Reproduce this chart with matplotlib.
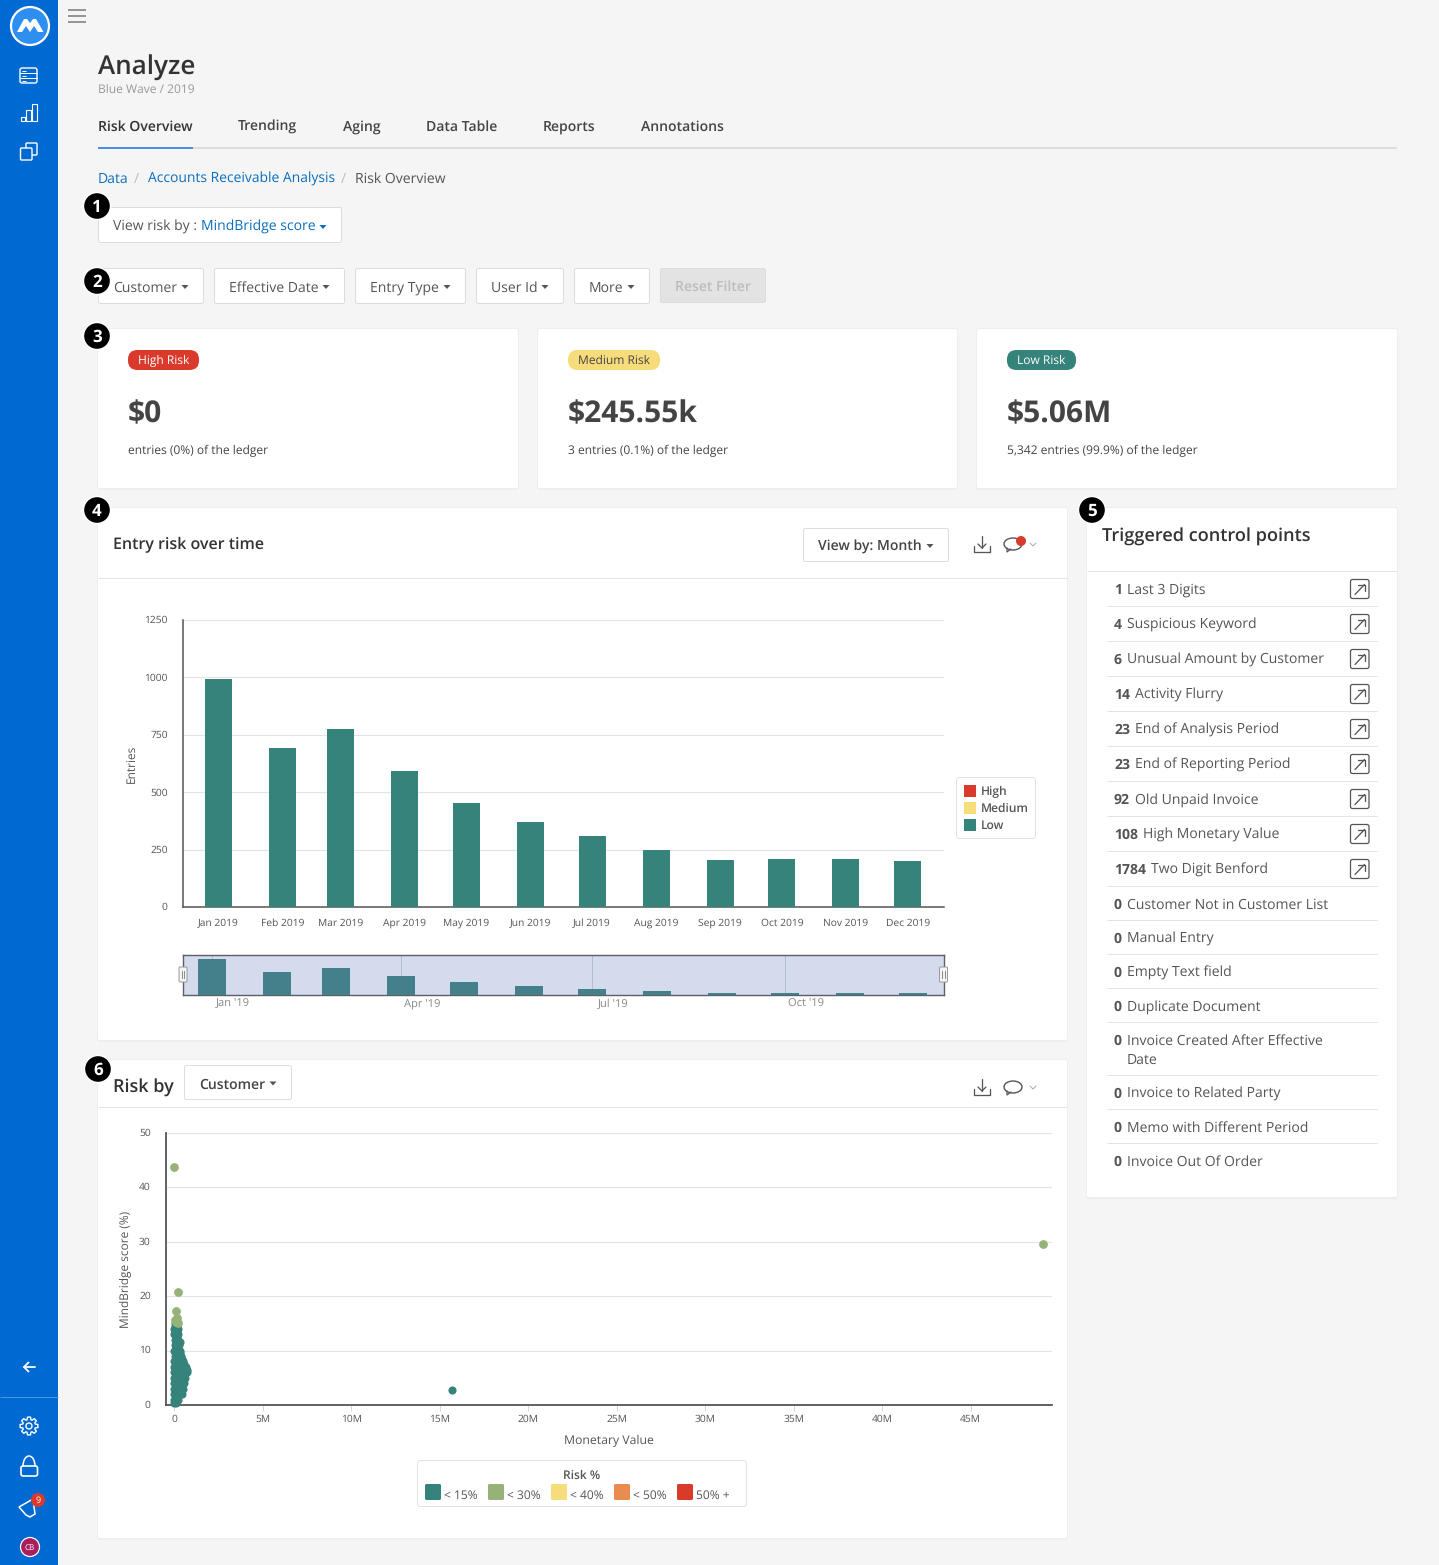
import datetime as dt
import math
import matplotlib
matplotlib.use("Agg")
import matplotlib.pyplot as plt
import matplotlib.dates as mdates
from matplotlib.patches import FancyBboxPatch, Rectangle, Circle, Polygon, Ellipse, Arc
from matplotlib.transforms import ScaledTranslation

plt.rcParams['font.family'] = ['Open Sans', 'DejaVu Sans']
plt.rcParams['text.hinting'] = 'no_hinting'

W, H = 1439, 1565

# entries per month
month_labels = ['Jan 2019', 'Feb 2019', 'Mar 2019', 'Apr 2019', 'May 2019', 'Jun 2019',
                'Jul 2019', 'Aug 2019', 'Sep 2019', 'Oct 2019', 'Nov 2019', 'Dec 2019']
month_dates = [dt.date(2019, m, 1) for m in range(1, 13)]
entries_low = [993, 692, 775, 592, 453, 370, 309, 248, 205, 209, 209, 200]
entry_ticks = [0, 250, 500, 750, 1000, 1250]
nav_tick_dates = [dt.date(2019, 1, 1), dt.date(2019, 4, 1), dt.date(2019, 7, 1), dt.date(2019, 10, 1)]
nav_tick_labels = ["Jan '19", "Apr '19", "Jul '19", "Oct '19"]

# scatter, monetary value in millions vs score
low_x = [0, .08,
         0, .12, .2, .06, .16,
         0, .12, .25, .38, .45, .06, .18, .3,
         0, .12, .25, .38, .48, .06, .18, .32, .44,
         0, .12, .25, .38, .5, .52, .06, .18, .32, .44,
         0, .12, .25, .38, .5, .62, .06, .18, .32, .44, .56,
         0, .12, .25, .38, .5, .62, .7, .72, .06, .18, .32, .44, .56,
         0, .12, .25, .38, .5, .65, .06, .18, .32, .44, .56,
         0, .12, .25, .38, .48, .06, .18, .32, .42,
         .02, .12, .25, .35, .07, .18, .3,
         0, .12, .25, .3, .06, .18,
         .02, .12, .25, .33, .07, .18,
         .03, .12, .22, .08, .17,
         0, .1, .2, .05, .15,
         0, .1, .2, .05, .15,
         .05, .15,
         15.7]
low_y = [.3, .3,
         1, 1, 1, 1.5, 1.5,
         2, 2, 2, 2, 2, 2.5, 2.5, 2.5,
         3, 3, 3, 3, 3, 3.5, 3.5, 3.5, 3.5,
         4, 4, 4, 4, 4, 4, 4.5, 4.5, 4.5, 4.5,
         5, 5, 5, 5, 5, 5, 5.5, 5.5, 5.5, 5.5, 5.5,
         6, 6, 6, 6, 6, 6, 6, 6.5, 6.5, 6.5, 6.5, 6.5, 6.5,
         7, 7, 7, 7, 7, 7, 7.5, 7.5, 7.5, 7.5, 7.5,
         8, 8, 8, 8, 8, 8.5, 8.5, 8.5, 8.5,
         9, 9, 9, 9, 9.5, 9.5, 9.5,
         10, 10, 10, 10, 10.5, 10.5,
         11, 11, 11, 11.5, 11.5, 11.5,
         12, 12, 12, 12.5, 12.5,
         13, 13, 13, 13.5, 13.5,
         14, 14, 14, 14.5, 14.5,
         15, 15,
         2.8]
medium_x = [0, .2, .1, .15, .08, .05, .18, 49.1]
medium_y = [43.7, 20.7, 17.3, 16, 15.2, 15.6, 15.0, 29.6]
score_ticks = [0, 10, 20, 30, 40, 50]
value_ticks = [0, 5, 10, 15, 20, 25, 30, 35, 40, 45]
value_labels = ['0', '5M', '10M', '15M', '20M', '25M', '30M', '35M', '40M', '45M']

control_points = [('1', 'Last 3 Digits'), ('4', 'Suspicious Keyword'), ('6', 'Unusual Amount by Customer'),
                  ('14', 'Activity Flurry'), ('23', 'End of Analysis Period'), ('23', 'End of Reporting Period'),
                  ('92', 'Old Unpaid Invoice'), ('108', 'High Monetary Value'), ('1784', 'Two Digit Benford'),
                  ('0', 'Customer Not in Customer List'), ('0', 'Manual Entry'), ('0', 'Empty Text field'),
                  ('0', 'Duplicate Document'), ('0', 'Invoice Created After Effective\nDate'),
                  ('0', 'Invoice to Related Party'), ('0', 'Memo with Different Period'), ('0', 'Invoice Out Of Order')]
control_rows = [589, 624, 659, 694, 729, 764, 799, 834, 869, 904, 938, 972, 1006, 1049, 1093, 1127, 1161]
control_seps = [606, 641, 676, 711, 746, 781, 816, 851, 886, 920, 954, 988, 1022, 1075, 1109, 1143]

TEAL = '#35837a'
GREEN = '#97b279'
YELLOW = '#f7dc7c'
ORANGE = '#ea8c52'
RED = '#d93a2b'
BLUE = '#0069d2'
LINK = '#0a6ebd'
DARK = '#333333'
GREY = '#555555'


def txt(x, y, s, size=14, color=GREY, weight='normal', ha='left', **kw):
    # size is in pixels, y is the middle of the capitals
    return ui.text(x, y + size * 0.36, s, fontsize=size * 0.72, color=color, fontweight=weight, ha=ha,
                   va='baseline', **kw)


def box(x0, y0, x1, y1, fc='white', ec='none', r=3, lw=0.7, z=1, ax=None, **kw):
    p = FancyBboxPatch((x0 + r, y0 + r), x1 - x0 - 2 * r, y1 - y0 - 2 * r,
                       boxstyle='round,pad=%f,rounding_size=%f' % (r, r),
                       fc=fc, ec=ec, lw=lw, zorder=z, mutation_aspect=1, **kw)
    if ax is None:
        ui.add_patch(p)
    else:
        ax.add_patch(p)
    return p


def card(x0, y0, x1, y1):
    box(x0 - 1, y0 - 1, x1 + 1, y1 + 2, fc='#eeeeee', r=3, z=1)
    box(x0, y0, x1, y1, fc='white', r=2, z=1.1)


def hline(x0, x1, y, color='#e4e4e4', lw=1.0, z=2):
    ui.plot([x0, x1], [y, y], color=color, lw=lw * 0.72, zorder=z, solid_capstyle='butt')


def line(xs, ys, color='white', lw=1.5, z=3):
    ui.plot(xs, ys, color=color, lw=lw * 0.72, zorder=z, solid_capstyle='round', solid_joinstyle='round')


def caret(x, y, color=GREY):
    ui.add_patch(Polygon([(x - 3.5, y - 2), (x + 3.5, y - 2), (x, y + 2)], fc=color, ec='none', zorder=3))


def button(x0, y0, x1, y1, label, size=14, color=GREY, tx=None, caret_x=None, weight='normal'):
    box(x0 + .5, y0 + .5, x1 - .5, y1 - .5, fc='white', ec='#dcdcdc', r=2, z=2)
    txt(x0 + 15 if tx is None else tx, (y0 + y1) / 2 + 1, label, size=size, color=color, weight=weight, zorder=3)
    if caret_x:
        caret(caret_x, (y0 + y1) / 2 + 1)


def badge(x, y, s):
    ui.add_patch(Circle((x, y), 13.5, fc='black', ec='white', lw=1, zorder=6))
    txt(x, y, s, size=17, color='white', weight='bold', ha='center', zorder=7)


def px_axes(l, t, r, b):
    a = fig.add_axes([l / W, 1 - b / H, (r - l) / W, (b - t) / H], zorder=5)
    a.patch.set_alpha(0)
    return a


def nudge_ylabels(a, px):
    for lab in a.get_yticklabels():
        lab.set_transform(lab.get_transform() + ScaledTranslation(0, px / 100, fig.dpi_scale_trans))


def download_icon(x, y):
    line([x - 8, x - 8, x + 8, x + 8], [y + 2, y + 8, y + 8, y + 2], color=GREY, lw=1.3)
    line([x, x], [y - 8, y + 4], color=GREY, lw=1.3)
    line([x - 4, x, x + 4], [y, y + 4, y], color=GREY, lw=1.3)


def comment_icon(x, y):
    ui.add_patch(Ellipse((x, y), 18, 12, fc='white', ec=GREY, lw=1.0, zorder=3))
    line([x - 6, x - 6, x - 2], [y + 4, y + 8, y + 5], color=GREY, lw=1.2, z=4)
    line([x + 17, x + 20, x + 23], [y - 1, y + 2, y - 1], color='#aaaaaa', lw=1)


def gear(cx, cy):
    pts = []
    for k in range(8):
        a = k * math.pi / 4
        for da, rad in [(-.3, 6.5), (-.17, 9), (.17, 9), (.3, 6.5)]:
            pts.append((cx + rad * math.cos(a + da), cy + rad * math.sin(a + da)))
    ui.add_patch(Polygon(pts, fc='none', ec='white', lw=1.0, zorder=3, joinstyle='round'))
    ui.add_patch(Circle((cx, cy), 3, fc='none', ec='white', lw=1.0, zorder=3))


fig = plt.figure(figsize=(W / 100, H / 100), dpi=100, facecolor='#f5f5f5')
ui = fig.add_axes([0, 0, 1, 1], zorder=0)
ui.set_xlim(0, W)
ui.set_ylim(H, 0)
ui.axis('off')

# sidebar
ui.add_patch(Rectangle((0, 0), 58, H, fc=BLUE, ec='none', zorder=1))
hline(0, 58, 1396.5, color='#4b96e2')
ui.add_patch(Circle((30, 26), 19, fc='#2f8ff0', ec='white', lw=1.6, zorder=2))
ui.add_patch(Polygon([(17, 32), (24, 19), (27, 19), (30, 23), (33, 19), (36, 19), (43.5, 32), (38, 32), (34, 26),
                      (30, 32), (26, 26), (22, 32)], fc='white', ec='none', zorder=3))
box(20, 68, 37, 83, fc='none', ec='white', r=2, lw=1.0, z=3)
hline(20, 37, 73, color='white')
hline(20, 37, 78, color='white')
for dy in [70.5, 75.5, 80.5]:
    hline(22, 26, dy, color='white', lw=1.0, z=3)
for bx, bt in [(20.5, 117), (26, 110), (32, 104)]:
    ui.add_patch(Rectangle((bx, bt), 4.5, 121 - bt, fc='none', ec='white', lw=0.8, zorder=3))
box(26, 143, 37, 155, fc='none', ec='white', r=1, lw=1.0, z=3)
box(20.5, 148, 32, 160, fc=BLUE, ec='white', r=1, lw=1.0, z=4)
line([35, 24], [1367, 1367], lw=1.8)
line([28.5, 24, 28.5], [1362.5, 1367, 1371.5], lw=1.8)
gear(29, 1426)
box(21, 1466, 37.5, 1476, fc='none', ec='white', r=2, lw=1.2, z=3)
ui.add_patch(Arc((29, 1466), 12, 20, theta1=180, theta2=360, ec='white', lw=1.1, zorder=3))
ui.add_patch(Polygon([(19, 1507), (33, 1499), (35, 1514), (30, 1517), (26, 1515)], fc='none', ec='white', lw=1.1,
                     zorder=3))
ui.add_patch(Circle((38, 1500), 7, fc=RED, ec='none', zorder=4))
txt(38, 1500, '9', size=9, color='white', ha='center', zorder=5)
ui.add_patch(Circle((30, 1547), 9.5, fc='#a81e5e', ec='white', lw=0.9, zorder=3))
txt(30, 1547, 'CB', size=8, color='white', ha='center', zorder=4)

# hamburger
for hy in [9.5, 15.5, 22]:
    hline(68, 86, hy, color='#777777', lw=1.5)

# header
txt(98, 65, 'Analyze', size=26, color=DARK, weight='semibold')
txt(98, 88.5, 'Blue Wave / 2019', size=12, color='#999999')
tab_x = [98, 238, 343, 426, 543, 641]
tab_names = ['Risk Overview', 'Trending', 'Aging', 'Data Table', 'Reports', 'Annotations']
for tx, name in zip(tab_x, tab_names):
    txt(tx, 126, name, size=14, color=DARK if name == 'Risk Overview' else '#444444', weight='semibold')
hline(98, 1397, 147.5, color='#dedede', lw=2)
hline(98, 193, 147.5, color='#4a90e2', lw=2, z=3)

# breadcrumb
txt(98, 178, 'Data', color=LINK)
txt(134, 178, '/', color='#bbbbbb')
txt(148, 178, 'Accounts Receivable Analysis', size=13.9, color=LINK)
txt(341, 178, '/', color='#bbbbbb')
txt(355, 178, 'Risk Overview', color=GREY)

# filters
box(98.5, 207.5, 341.5, 242.5, fc='white', ec='#dcdcdc', r=2, z=2)
txt(113, 226, 'View risk by : ', zorder=3)
txt(201, 226, 'MindBridge score', color=LINK, zorder=3)
caret(323, 227, color=LINK)
button(98, 268, 204, 304, 'Customer', caret_x=185)
button(214, 268, 345, 304, 'Effective Date', caret_x=326)
button(355, 268, 466, 304, 'Entry Type', caret_x=447)
button(476, 268, 564, 304, 'User Id', caret_x=545)
button(574, 268, 650, 304, 'More', caret_x=631)
box(660.5, 268.5, 765.5, 302.5, fc='#e3e3e3', ec='#dcdcdc', r=2, z=2)
txt(713, 286, 'Reset Filter', color='#bcbcbc', weight='semibold', ha='center', zorder=3)

# risk cards
card(98, 329, 518, 488)
card(538, 329, 957, 488)
card(977, 329, 1397, 488)
pills = [(128, 199, 'High Risk', RED, 'white'), (568, 660, 'Medium Risk', YELLOW, '#444444'),
         (1007, 1076, 'Low Risk', TEAL, 'white')]
for x0, x1, lab, fc, tc in pills:
    box(x0, 350, x1, 370, fc=fc, r=9.5, z=3)
    txt((x0 + x1) / 2, 360, lab, size=12, color=tc, ha='center', zorder=4)
amounts = [(128, '$0', 'entries (0%) of the ledger'), (568, '$245.55k', '3 entries (0.1%) of the ledger'),
           (1007, '$5.06M', '5,342 entries (99.9%) of the ledger')]
for ax0, amt, sub in amounts:
    txt(ax0, 411, amt, size=30, color='#444444', weight='bold', zorder=3)
    txt(ax0, 450, sub, size=12, color='#444444', zorder=3)

# entry risk card
card(98, 508, 1067, 1040)
txt(113, 543.5, 'Entry risk over time', size=16, color=DARK, weight='semibold', zorder=3)
hline(98, 1067, 578)
button(803, 528, 949, 562, 'View by: Month', color='#444444', caret_x=930, weight='semibold')
download_icon(982, 544)
comment_icon(1013, 544)
ui.add_patch(Circle((1021, 541), 5, fc=RED, ec='none', zorder=5))

bar_ax = px_axes(183, 620, 944, 907)
days = mdates.date2num(month_dates)
bar_ax.bar(days, entries_low, width=13.1, color=TEAL, zorder=3)
bar_ax.set_xlim(days[0] - 17.2, days[0] + 351.5)
bar_ax.set_ylim(0, 1250)
bar_ax.set_xticks(days, month_labels)
bar_ax.set_yticks(entry_ticks)
bar_ax.grid(axis='y', color='#e4e4e4', lw=0.8, zorder=0)
bar_ax.tick_params(axis='x', length=0, labelsize=7.4, labelcolor=GREY, pad=8)
bar_ax.tick_params(axis='y', length=0, labelsize=7.4, labelcolor=GREY, pad=11)
nudge_ylabels(bar_ax, 0.5)
bar_ax.set_ylabel('Entries', fontsize=8.6, color=GREY, labelpad=5)
for sp in ['top', 'right']:
    bar_ax.spines[sp].set_visible(False)
bar_ax.spines['left'].set_color(GREY)
bar_ax.spines['bottom'].set_color(GREY)
bar_ax.spines['left'].set_linewidth(1.1)
bar_ax.spines['bottom'].set_linewidth(1.1)

# bar legend
box(956.5, 777.5, 1035.5, 838.5, fc='white', ec='#e2e2e2', r=3, z=3)
for ly, lab, col in [(791, 'High', RED), (808, 'Medium', YELLOW), (825, 'Low', TEAL)]:
    ui.add_patch(Rectangle((964, ly - 6), 12, 12, fc=col, ec='none', zorder=4))
    txt(981, ly, lab, size=12, color=GREY, weight='semibold', zorder=4)

# navigator
nav_ax = px_axes(183, 955, 944, 995)
nav_ax.set_facecolor('#d3dbed')
nav_ax.patch.set_alpha(1)
nav_ax.bar(days, entries_low, width=13.3, color='#44808c', zorder=3)
nav_ax.set_xlim(days[0] - 13.8, days[0] + 348.8)
nav_ax.set_ylim(160, 1086)
nav_days = mdates.date2num(nav_tick_dates)
nav_ax.set_xticks(nav_days, [])
nav_ax.set_yticks([])
nav_ax.grid(axis='x', color='#b4bed2', lw=0.7, zorder=1)
nav_ax.tick_params(axis='x', length=0)
for sp in nav_ax.spines.values():
    sp.set_color('#5c5f6a')
    sp.set_linewidth(1.0)
for d, lab in zip(nav_days, nav_tick_labels):
    nav_ax.text(d + 10, -0.3, lab, transform=nav_ax.get_xaxis_transform(), fontsize=8,
                color='#888888', ha='center', va='baseline')
for hx in [183, 943.5]:
    box(hx - 4, 967, hx + 4, 982, fc='#f4f4f4', ec='#999999', r=1, lw=0.7, z=8, ax=nav_ax,
        transform=ui.transData, clip_on=False)
    for gx in [hx - 1.2, hx + 1.2]:
        nav_ax.plot([gx, gx], [971, 978], color='#777777', lw=0.6, zorder=9, transform=ui.transData, clip_on=False)
nav_ax.set_xlim(days[0] - 13.8, days[0] + 348.8)
nav_ax.set_ylim(160, 1086)

# control points card
card(1087, 508, 1397, 1197)
txt(1102, 535, 'Triggered control points', size=18.2, color=DARK, weight='semibold', zorder=3)
hline(1087, 1397, 571)
for i, ((num, lab), ry) in enumerate(zip(control_points, control_rows)):
    lx = 1127 + (len(num) - 1) * 8
    if '\n' in lab:
        first, second = lab.split('\n')
        txt(1114, 1040, num, weight='bold', zorder=3)
        txt(lx, 1040, first, zorder=3)
        txt(lx, 1059, second, zorder=3)
    else:
        txt(1114, ry, num, weight='bold', zorder=3)
        txt(lx, ry, lab, zorder=3)
    if i < 9:
        box(1350.5, ry - 9.5, 1369, ry + 9.5, fc='white', ec='#555555', r=2, lw=0.9, z=3)
        line([1355, 1364.5], [ry + 5.5, ry - 4.5], color='#555555', lw=1.3, z=4)
        line([1358, 1364.5, 1364.5], [ry - 4.5, ry - 4.5, ry + 2], color='#555555', lw=1.3, z=4)
for sy in control_seps:
    hline(1107, 1377, sy)

# risk by card
card(98, 1060, 1067, 1538)
txt(113, 1086.5, 'Risk by', size=18, color=DARK, weight='semibold', zorder=3)
button(184, 1065, 292, 1100, 'Customer', color='#444444', tx=199, caret_x=273, weight='semibold')
hline(98, 1067, 1107)
download_icon(982, 1087)
comment_icon(1013, 1087)

sc_ax = px_axes(166, 1133, 1052, 1405)
sc_ax.scatter(low_x, low_y, s=34, color=TEAL, linewidths=0, zorder=3, clip_on=False)
sc_ax.scatter(medium_x, medium_y, s=40, color=GREEN, linewidths=0, zorder=4, clip_on=False)
sc_ax.set_xlim(-0.48, 49.6)
sc_ax.set_ylim(0, 50)
sc_ax.set_xticks(value_ticks, value_labels)
sc_ax.set_yticks(score_ticks)
sc_ax.grid(axis='y', color='#e4e4e4', lw=0.8, zorder=0)
sc_ax.tick_params(axis='x', length=4, width=0.6, color='#c3d3e0', labelsize=7.4, labelcolor=GREY, pad=3)
sc_ax.tick_params(axis='y', length=0, labelsize=7.4, labelcolor=GREY, pad=11)
nudge_ylabels(sc_ax, 1)
sc_ax.set_xlabel('Monetary Value', fontsize=8.8, color=GREY)
sc_ax.xaxis.set_label_coords((609 - 166) / 886, -(1435 - 1405) / 272)
sc_ax.set_ylabel('MindBridge score (%)', fontsize=8.6, color=GREY, labelpad=5)
for sp in ['top', 'right']:
    sc_ax.spines[sp].set_visible(False)
sc_ax.spines['left'].set_color(GREY)
sc_ax.spines['bottom'].set_color(GREY)
sc_ax.spines['left'].set_linewidth(1.3)
sc_ax.spines['bottom'].set_linewidth(1.3)

# scatter legend
box(417.5, 1460.5, 746.5, 1506.5, fc='white', ec='#e2e2e2', r=3, z=3)
txt(582, 1475, 'Risk %', size=12, color=GREY, weight='semibold', ha='center', zorder=4)
risk_legend = [(425, '< 15%', TEAL), (488, '< 30%', GREEN), (551, '< 40%', YELLOW), (614, '< 50%', ORANGE),
               (677, '50% +', RED)]
for lx, lab, col in risk_legend:
    box(lx, 1484, lx + 16, 1500, fc=col, r=1.5, z=4)
    txt(lx + 19, 1495, lab, size=12, color=GREY, zorder=4)

for bx, by, n in [(97, 206, '1'), (97, 281, '2'), (97, 336, '3'), (97, 510, '4'), (1092, 510, '5'), (98, 1069, '6')]:
    badge(bx, by, n)

fig.savefig('out.png', dpi=100, facecolor=fig.get_facecolor())
